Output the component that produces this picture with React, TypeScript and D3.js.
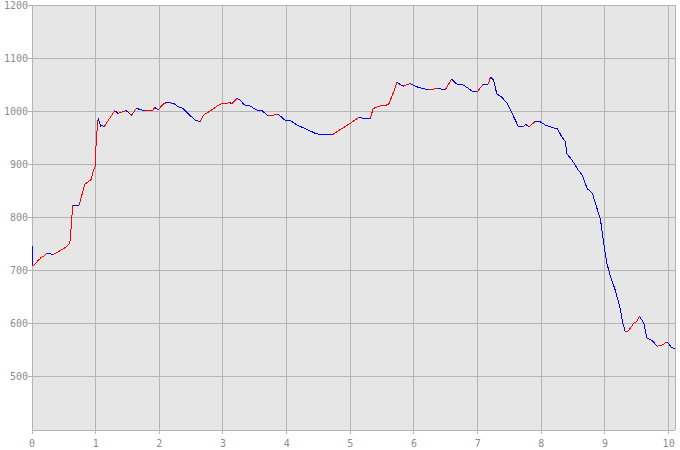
import React from "react";
import * as d3 from "d3";

const distanceKm = [
  0, 0.01, 0.06, 0.12, 0.2, 0.23, 0.33, 0.39, 0.44, 0.54, 0.58, 0.6, 0.64, 0.74, 0.83, 0.93, 0.96, 0.99,
  1.01, 1.03, 1.04, 1.08, 1.09, 1.13, 1.25, 1.3, 1.35, 1.48, 1.56, 1.64, 1.77, 1.9, 1.93, 1.98,
  2.06, 2.11, 2.22, 2.3, 2.37, 2.43, 2.56, 2.64, 2.69, 2.82, 2.95,
  3.11, 3.13, 3.19, 3.22, 3.27, 3.34, 3.42, 3.53, 3.61, 3.71, 3.87, 3.97,
  4.05, 4.16, 4.31, 4.47, 4.71, 4.84,
  5.0, 5.13, 5.31, 5.36, 5.47, 5.6, 5.68, 5.73, 5.83, 5.94,
  6.04, 6.12, 6.23, 6.38, 6.49, 6.59, 6.67, 6.78, 6.91, 6.99,
  7.09, 7.17, 7.2, 7.25, 7.3, 7.38, 7.46, 7.54, 7.64, 7.72, 7.75, 7.81, 7.9, 7.98,
  8.06, 8.17, 8.25, 8.32, 8.38, 8.4, 8.48, 8.58, 8.64, 8.72, 8.8, 8.85, 8.93, 8.98,
  9.03, 9.08, 9.16, 9.24, 9.28, 9.32, 9.37, 9.45, 9.5, 9.54, 9.61, 9.66, 9.74, 9.82, 9.9, 9.97,
  10.0, 10.05, 10.1,
];

const elevation = [
  747, 708, 713, 722, 728, 732, 730, 733, 737, 744, 749, 757, 823, 823, 862, 871, 886, 895,
  945, 977, 986, 971, 974, 970, 992, 1001, 996, 1001, 992, 1005, 1001, 1002, 1007, 1002,
  1013, 1016, 1015, 1008, 1005, 998, 983, 980, 992, 1002, 1013,
  1016, 1013, 1020, 1024, 1021, 1011, 1010, 1002, 1001, 991, 994, 983,
  983, 974, 966, 957, 955, 965,
  977, 988, 985, 1005, 1010, 1012, 1036, 1054, 1047, 1052,
  1046, 1043, 1040, 1043, 1040, 1060, 1051, 1049, 1038, 1036,
  1051, 1051, 1064, 1059, 1033, 1026, 1015, 996, 971, 971, 975, 971, 980, 980,
  974, 969, 967, 952, 942, 920, 908, 889, 880, 854, 846, 826, 795, 751,
  713, 691, 663, 628, 600, 584, 586, 600, 603, 614, 600, 572, 568, 557, 559, 565,
  562, 554, 553,
];

const xTicks = [0, 1, 2, 3, 4, 5, 6, 7, 8, 9, 10];
const yTicks = [500, 600, 700, 800, 900, 1000, 1100, 1200];

const W = 680;
const H = 450;
const left = 32;
const right = 675;
const top = 5;
const bottom = 430;

export default function App() {
  const x = d3.scaleLinear().domain([0, 10.1]).range([left, right]);
  const y = d3.scaleLinear().domain([399, 1200]).range([bottom, top]);
  const gridColor = "#b4b4b4";
  const textColor = "#8c8c8c";
  const px = (v: number) => Math.floor(v) + 0.5;

  const segs = [];
  for (let i = 1; i < distanceKm.length; i++) {
    const up = elevation[i] > elevation[i - 1];
    const line = d3.line<[number, number]>().x((d) => x(d[0])).y((d) => y(d[1]));
    segs.push(
      <path
        key={i}
        d={line([
          [distanceKm[i - 1], elevation[i - 1]],
          [distanceKm[i], elevation[i]],
        ]) || ""}
        stroke={up ? "#ff0000" : "#0000ff"}
        strokeWidth={1}
        fill="none"
        shapeRendering="crispEdges"
      />
    );
  }

  return (
    <svg width={W} height={H} style={{ position: "absolute", left: 0, top: 0, background: "#fff" }}>
      <rect x={left} y={top} width={right - left} height={bottom - top} fill="#e6e6e6" />
      {xTicks.map((t) => (
        <line key={"gx" + t} x1={px(x(t))} x2={px(x(t))} y1={top} y2={bottom + 4} stroke={gridColor} shapeRendering="crispEdges" />
      ))}
      {yTicks.map((t) => (
        <line key={"gy" + t} x1={left - 4} x2={right} y1={px(y(t))} y2={px(y(t))} stroke={gridColor} shapeRendering="crispEdges" />
      ))}
      <line x1={px(left)} x2={px(left)} y1={top} y2={bottom + 4} stroke={gridColor} shapeRendering="crispEdges" />
      <line x1={px(right)} x2={px(right)} y1={top} y2={bottom} stroke={gridColor} shapeRendering="crispEdges" />
      <line x1={left} x2={right} y1={px(bottom)} y2={px(bottom)} stroke={gridColor} shapeRendering="crispEdges" />
      <line x1={left} x2={right} y1={px(top)} y2={px(top)} stroke={gridColor} shapeRendering="crispEdges" />
      {segs}
      {yTicks.map((t) => (
        <text key={"ly" + t} x={left - 4} y={y(t) + 3.5} textAnchor="end" fontFamily="'DejaVu Sans Mono', monospace" fontSize={10} fill={textColor}>
          {t}
        </text>
      ))}
      {xTicks.map((t) => (
        <text key={"lx" + t} x={x(t)} y={447} textAnchor="middle" fontFamily="'DejaVu Sans Mono', monospace" fontSize={10} fill={textColor}>
          {t}
        </text>
      ))}
    </svg>
  );
}
